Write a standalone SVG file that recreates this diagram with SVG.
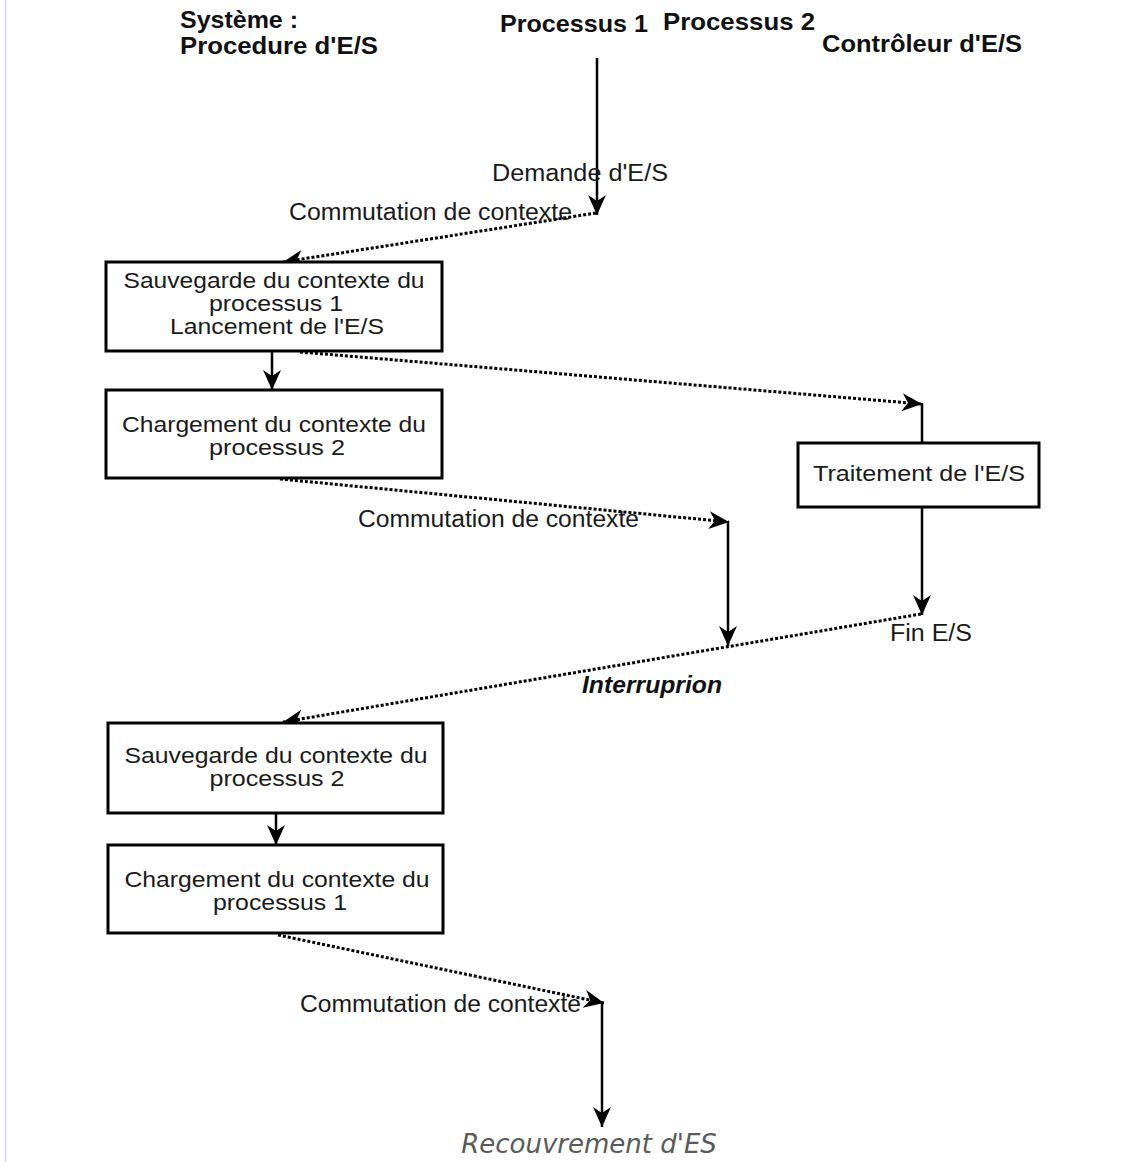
<svg xmlns="http://www.w3.org/2000/svg" width="1128" height="1162" viewBox="0 0 1128 1162">
  <style>
    .head { font-family: "Liberation Sans", Arial, sans-serif; font-weight: bold; font-size: 24px; fill: #111; }
    .lbl { font-family: "Liberation Sans", Arial, sans-serif; font-size: 23px; fill: #1a1a1a; }
    .box rect { fill: #fff; stroke: #000; stroke-width: 3; }
    .box text { font-family: "Liberation Sans", Arial, sans-serif; font-size: 22px; fill: #1a1a1a; text-anchor: middle; }
    .solid { stroke: #000; stroke-width: 2.5; fill: none; }
    .dotted { stroke: #000; stroke-width: 3; stroke-dasharray: 3 2; fill: none; }
  </style>
  <defs>
    <marker id="arrow" markerUnits="userSpaceOnUse" markerWidth="22" markerHeight="22" viewBox="0 0 22 22" refX="20" refY="11" orient="auto">
      <path d="M0,2 L20,11 L0,20 L6,11 z" fill="#000"/>
    </marker>
  </defs>

  <rect width="1128" height="1162" fill="#fff"/>
  <!-- page edge -->
  <line x1="5.5" y1="0" x2="5.5" y2="1162" stroke="#d2d2f4" stroke-width="1.5"/>

  <!-- column headings -->
  <g id="headings">
    <text class="head" x="180" y="28" textLength="118" lengthAdjust="spacingAndGlyphs">Système :</text>
    <text class="head" x="180" y="54" textLength="198" lengthAdjust="spacingAndGlyphs">Procedure d'E/S</text>
    <text class="head" x="500" y="32" textLength="148" lengthAdjust="spacingAndGlyphs">Processus 1</text>
    <text class="head" x="663" y="30" textLength="152" lengthAdjust="spacingAndGlyphs">Processus 2</text>
    <text class="head" x="822" y="52" textLength="200" lengthAdjust="spacingAndGlyphs">Contrôleur d'E/S</text>
  </g>

  <!-- connectors -->
  <g id="connectors">
    <line class="solid" x1="597" y1="58" x2="597" y2="215" marker-end="url(#arrow)"/>
    <line class="dotted" x1="596" y1="213" x2="283" y2="262" marker-end="url(#arrow)"/>
    <line class="solid" x1="272" y1="351" x2="272" y2="390" marker-end="url(#arrow)"/>
    <line class="dotted" x1="300" y1="352" x2="922" y2="404" marker-end="url(#arrow)"/>
    <line class="solid" x1="922" y1="403" x2="922" y2="443"/>
    <line class="solid" x1="922" y1="507" x2="922" y2="615" marker-end="url(#arrow)"/>
    <line class="dotted" x1="921" y1="614" x2="283" y2="722" marker-end="url(#arrow)"/>
    <line class="dotted" x1="280" y1="479" x2="729" y2="522" marker-end="url(#arrow)"/>
    <line class="solid" x1="728" y1="521" x2="728" y2="646" marker-end="url(#arrow)"/>
    <line class="solid" x1="276" y1="813" x2="276" y2="845" marker-end="url(#arrow)"/>
    <line class="dotted" x1="278" y1="935" x2="604" y2="1003" marker-end="url(#arrow)"/>
    <line class="solid" x1="602" y1="1002" x2="602" y2="1127" marker-end="url(#arrow)"/>
  </g>

  <!-- connector labels -->
  <g id="labels">
    <text class="lbl" x="492" y="181" textLength="176" lengthAdjust="spacingAndGlyphs">Demande d'E/S</text>
    <text class="lbl" x="289" y="220" textLength="283" lengthAdjust="spacingAndGlyphs">Commutation de contexte</text>
    <text class="lbl" x="358" y="527" textLength="281" lengthAdjust="spacingAndGlyphs">Commutation de contexte</text>
    <text class="lbl" x="890" y="641" textLength="82" lengthAdjust="spacingAndGlyphs">Fin E/S</text>
    <text x="582" y="693" font-family="'Liberation Sans', Arial, sans-serif" font-size="23" font-weight="bold" font-style="italic" fill="#111" textLength="140" lengthAdjust="spacingAndGlyphs">Interruprion</text>
    <text class="lbl" x="300" y="1012" textLength="281" lengthAdjust="spacingAndGlyphs">Commutation de contexte</text>
  </g>

  <!-- nodes -->
  <g id="save-p1" class="box">
    <rect x="106" y="262" width="336" height="89"/>
    <text x="274" y="288" textLength="301" lengthAdjust="spacingAndGlyphs">Sauvegarde du contexte du</text>
    <text x="276" y="311" textLength="134" lengthAdjust="spacingAndGlyphs">processus 1</text>
    <text x="277" y="334" textLength="214" lengthAdjust="spacingAndGlyphs">Lancement de l'E/S</text>
  </g>
  <g id="load-p2" class="box">
    <rect x="106" y="390" width="336" height="88"/>
    <text x="274" y="432" textLength="304" lengthAdjust="spacingAndGlyphs">Chargement du contexte du</text>
    <text x="277" y="455" textLength="136" lengthAdjust="spacingAndGlyphs">processus 2</text>
  </g>
  <g id="io-processing" class="box">
    <rect x="798" y="443" width="241" height="64"/>
    <text x="919" y="481" textLength="212" lengthAdjust="spacingAndGlyphs">Traitement de l'E/S</text>
  </g>
  <g id="save-p2" class="box">
    <rect x="108" y="723" width="335" height="90"/>
    <text x="276" y="763" textLength="303" lengthAdjust="spacingAndGlyphs">Sauvegarde du contexte du</text>
    <text x="277" y="786" textLength="135" lengthAdjust="spacingAndGlyphs">processus 2</text>
  </g>
  <g id="load-p1" class="box">
    <rect x="108" y="845" width="335" height="88"/>
    <text x="277" y="887" textLength="305" lengthAdjust="spacingAndGlyphs">Chargement du contexte du</text>
    <text x="280" y="910" textLength="134" lengthAdjust="spacingAndGlyphs">processus 1</text>
  </g>

  <!-- caption -->
  <text x="589" y="1153" text-anchor="middle" font-family="'DejaVu Sans', Verdana, sans-serif" font-size="26" font-style="italic" fill="#5a5a5a">Recouvrement d'ES</text>
</svg>
